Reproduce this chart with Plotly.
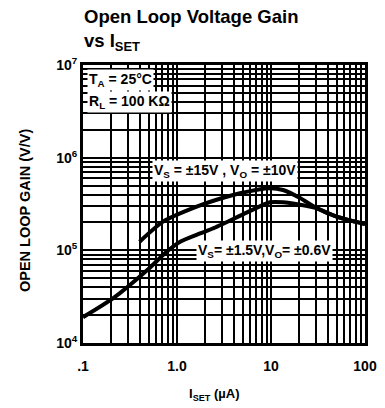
import plotly.graph_objects as go

# Data
iset_hi = [0.40, 0.71, 1.62, 2.86, 4.68, 9.75, 13.4, 20.4, 30.6, 50, 100]
gain_hi = [1.24e5, 2.04e5, 2.96e5, 3.6e5, 4.13e5, 4.68e5, 4.48e5, 3.67e5, 2.85e5, 2.31e5, 1.92e5]

iset_lo = [0.1, 0.21, 0.48, 0.78, 1.08, 1.76, 2.4, 5.5, 9.75, 13.4, 20.4, 30.6, 50, 100]
gain_lo = [1.9e4, 3.05e4, 6.1e4, 9.7e4, 1.24e5, 1.52e5, 1.72e5, 2.55e5, 3.3e5, 3.3e5, 3.1e5, 2.85e5, 2.31e5, 1.92e5]

x_tickvals = [0.1, 1, 10, 100]
x_ticktext = [".1", "1.0", "10", "100"]
y_tickvals = [1e4, 1e5, 1e6, 1e7]
y_ticktext = ["10<sup>4</sup>", "10<sup>5</sup>", "10<sup>6</sup>", "10<sup>7</sup>"]

FONT = "Liberation Sans, Arial, sans-serif"

fig = go.Figure()
fig.add_trace(go.Scatter(x=iset_hi, y=gain_hi, mode="lines",
                         line=dict(color="black", width=4, shape="spline", smoothing=0.6),
                         showlegend=False, hoverinfo="skip"))
fig.add_trace(go.Scatter(x=iset_lo, y=gain_lo, mode="lines",
                         line=dict(color="black", width=4, shape="spline", smoothing=0.6),
                         showlegend=False, hoverinfo="skip"))

axis_common = dict(
    type="log", automargin=False,
    showline=True, linecolor="black", linewidth=3, mirror=True,
    showgrid=True, gridcolor="black", gridwidth=2,
    ticks="", zeroline=False,
    tickfont=dict(family=FONT, size=14, color="black", weight="bold"),
    minor=dict(showgrid=True, gridcolor="black", gridwidth=1.5, dtick="D1", ticks=""),
)

fig.update_xaxes(range=[-1, 2], tickvals=x_tickvals, ticktext=x_ticktext,
                 ticklabelstandoff=8, **axis_common)
fig.update_yaxes(range=[4, 7], tickvals=y_tickvals, ticktext=y_ticktext, **axis_common)

label_font = dict(family=FONT, size=14, color="black", weight="bold")
anns = [
    dict(x=0.015, y=0.946, text="T<sub>A</sub> = 25°C"),
    dict(x=0.015, y=0.866, text="R<sub>L</sub> = 100 KΩ"),
    dict(x=0.243, y=0.619, text="V<sub>S</sub> = ±15V , V<sub>O</sub> = ±10V"),
    dict(x=0.402, y=0.331, text="V<sub>S</sub>= ±1.5V,V<sub>O</sub>= ±0.6V"),
]
for a in anns:
    fig.add_annotation(xref="paper", yref="paper", xanchor="left", yanchor="middle",
                       showarrow=False, bgcolor="white", borderpad=1,
                       font=label_font, **a)

# Chart title
fig.add_annotation(xref="paper", yref="paper", x=-0.004, y=1.22,
                   xanchor="left", yanchor="top", align="left", showarrow=False,
                   text="Open Loop Voltage Gain<br>vs I<sub>SET</sub>",
                   font=dict(family=FONT, size=18.5, color="black", weight="bold"))

# Axis titles
fig.add_annotation(xref="paper", yref="paper", x=0.465, y=-0.187,
                   xanchor="center", yanchor="middle", showarrow=False,
                   text="I<sub>SET</sub> (µA)",
                   font=dict(family=FONT, size=13, color="black", weight="bold"))
fig.add_annotation(xref="paper", yref="paper", x=-0.206, y=0.478,
                   xanchor="center", yanchor="middle", showarrow=False, textangle=-90,
                   text="OPEN LOOP GAIN (V/V)",
                   font=dict(family=FONT, size=14.5, color="black", weight="bold"))

fig.update_layout(
    width=385, height=408,
    margin=dict(l=83, r=20, t=65, b=65),
    paper_bgcolor="white", plot_bgcolor="white",
)

fig.write_html("out.html", config={"displayModeBar": False},
               post_script="document.body.style.margin='0';document.body.style.padding='0';")
